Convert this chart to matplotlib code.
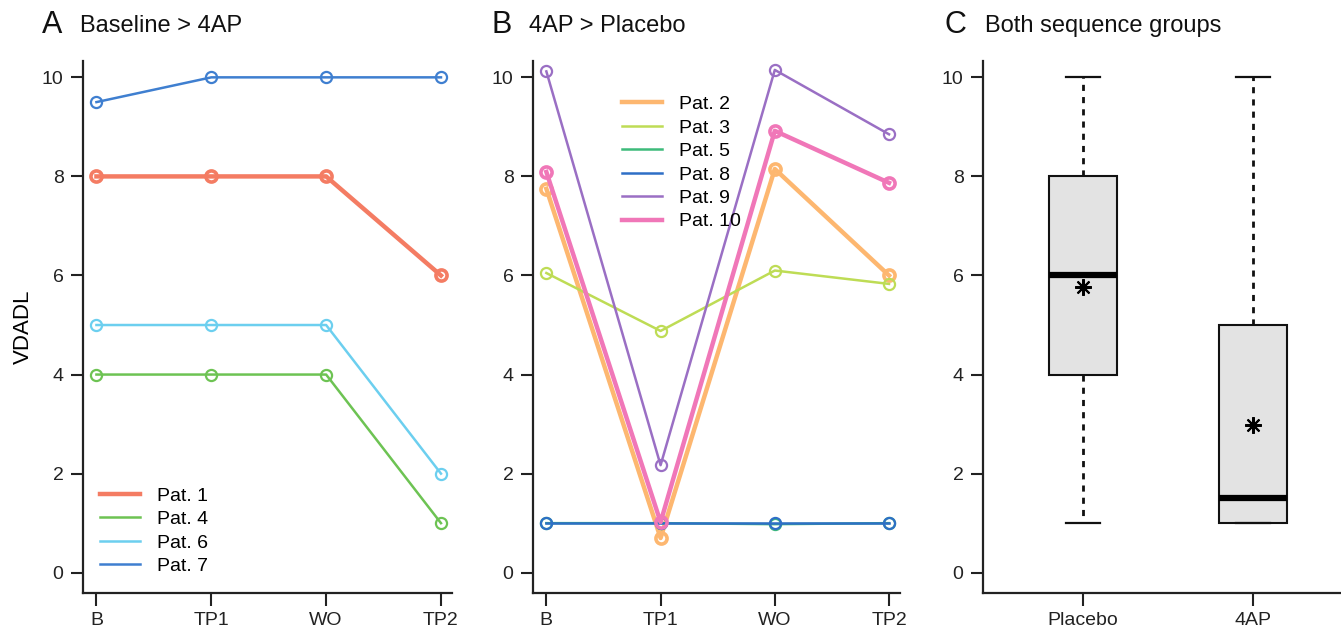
import matplotlib
matplotlib.use("Agg")
import matplotlib.pyplot as plt
from matplotlib.lines import Line2D

plt.rcParams['font.family'] = ['Liberation Sans', 'DejaVu Sans']

timepoints = ['B', 'TP1', 'WO', 'TP2']

# panel A: Baseline > 4AP
a_labels = ['Pat. 1', 'Pat. 4', 'Pat. 6', 'Pat. 7']
a_values = [
    [8, 8, 8, 6],
    [4, 4, 4, 1],
    [5, 5, 5, 2],
    [9.5, 10, 10, 10],
]
a_colors = ['#F47C63', '#6DC353', '#6CCFEF', '#3F7FD0']
a_widths = [3.2, 1.8, 1.8, 1.8]

# panel B: 4AP > Placebo
b_labels = ['Pat. 2', 'Pat. 3', 'Pat. 5', 'Pat. 8', 'Pat. 9', 'Pat. 10']
b_values = [
    [7.75, 0.7, 8.15, 6.0],
    [6.05, 4.88, 6.1, 5.83],
    [1.0, 1.0, 0.98, 1.0],
    [1.0, 1.0, 1.0, 1.0],
    [10.12, 2.17, 10.15, 8.85],
    [8.09, 1.02, 8.92, 7.87],
]
b_colors = ['#FDB770', '#BEDC55', '#3DBB7A', '#2E6FC6', '#9A6FC4', '#F077B8']
b_widths = [3.2, 1.8, 1.8, 1.8, 1.8, 3.2]

# panel C: both sequence groups (box statistics)
c_groups = ['Placebo', '4AP']
c_low = [1, 1]
c_q1 = [4, 1]
c_med = [6, 1.5]
c_q3 = [8, 5]
c_high = [10, 10]
c_mean = [5.77, 2.98]

W, H = 1341, 633
fig = plt.figure(figsize=(W / 100, H / 100), dpi=100)


def px_axes(left, right, top, bottom):
    return fig.add_axes([left / W, 1 - bottom / H, (right - left) / W, (bottom - top) / H])


def style(ax):
    for s in ['top', 'right']:
        ax.spines[s].set_visible(False)
    for s in ['left', 'bottom']:
        ax.spines[s].set_linewidth(1.6)
        ax.spines[s].set_color('#222222')
    ax.tick_params(direction='out', length=9, width=1.5, labelsize=14, colors='#222222', pad=5)
    ax.set_ylim(-0.41, 10.33)
    ax.set_yticks([0, 2, 4, 6, 8, 10])


def line_panel(ax, values, colors, widths, labels, anchor):
    x = list(range(len(timepoints)))
    handles = []
    for vals, c, lw, lab in zip(values, colors, widths, labels):
        ax.plot(x, vals, color=c, lw=lw, marker='o', ms=8,
                mfc='none', mec=c, mew=1.6 if lw < 3 else 2.6)
        handles.append(Line2D([], [], color=c, lw=lw, label=lab))
    ax.set_xticks(x)
    ax.set_xticklabels(timepoints)
    ax.set_xlim(-0.117, 3.096)
    style(ax)
    ax.legend(handles=handles, loc='upper left', bbox_to_anchor=anchor, frameon=False,
              fontsize=14, handlelength=2.06, handletextpad=0.88, labelspacing=0.3,
              borderpad=0, borderaxespad=0)


axA = px_axes(83, 452, 61, 593)
line_panel(axA, a_values, a_colors, a_widths, a_labels, (0.046, 0.199))
axA.set_ylabel('VDADL', fontsize=16)
axA.yaxis.set_label_coords(-49 / 369, 0.5)

axB = px_axes(533, 900, 61, 593)
line_panel(axB, b_values, b_colors, b_widths, b_labels, (0.2425, 0.935))

axC = px_axes(983, 1341, 61, 593)
stats = []
for g, lo, q1, md, q3, hi, mn in zip(c_groups, c_low, c_q1, c_med, c_q3, c_high, c_mean):
    stats.append(dict(label=g, whislo=lo, q1=q1, med=md, q3=q3, whishi=hi, mean=mn, fliers=[]))
axC.bxp(stats, positions=[1, 2], widths=0.4, patch_artist=True, showmeans=True,
        boxprops=dict(facecolor='#E3E3E3', edgecolor='#111111', lw=1.5),
        medianprops=dict(color='black', lw=4.5),
        whiskerprops=dict(color='#111111', lw=2, linestyle=(0, (2.2, 2.2))),
        capprops=dict(color='#111111', lw=1.6),
        capwidths=0.2,
        meanprops=dict(marker=(8, 2, 0), markersize=12, markeredgecolor='black', markeredgewidth=1.5))
axC.set_xlim(0.412, 2.517)
style(axC)

# panel headers
for letter, title, xl, xt in [('A', 'Baseline > 4AP', 42, 80),
                              ('B', '4AP > Placebo', 491, 529),
                              ('C', 'Both sequence groups', 944, 985)]:
    fig.text(xl / W, 1 - 25 / H, letter, fontsize=22, va='center', ha='left', color='#111111')
    fig.text(xt / W, 1 - 26 / H, title, fontsize=17, va='center', ha='left', color='#111111')

fig.savefig('out.png', dpi=100)
